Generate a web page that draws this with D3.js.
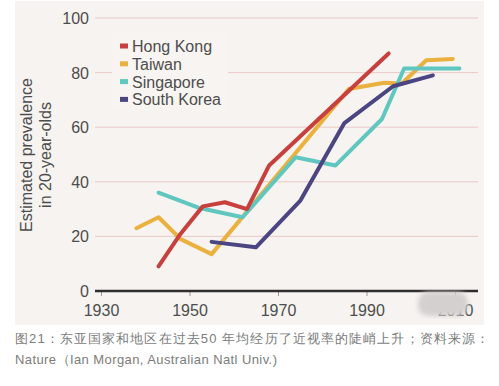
<!DOCTYPE html>
<html>
<head>
<meta charset="utf-8">
<script src="https://d3js.org/d3.v7.min.js"></script>
<style>
body { margin: 0; background: #fff; }
text { font-family: "Liberation Sans", Arial, sans-serif; }
</style>
</head>
<body>
<script>
// chart values
var xTicks = [1930, 1950, 1970, 1990, 2010];
var yTicks = [0, 20, 40, 60, 80, 100];

var seriesNames = ["Hong Kong", "Taiwan", "Singapore", "South Korea"];
var seriesColors = ["#c8403e", "#eab13e", "#5fc7bf", "#4b4682"];

var hkYears = [1943, 1948, 1953, 1958, 1963, 1968, 1995];
var hkVals  = [9, 21, 31, 32.5, 30, 46, 87];

var twYears = [1938, 1943, 1948, 1955, 1986, 1994, 1998, 2003.5, 2009.5];
var twVals  = [23, 27, 19, 13.5, 74, 76.3, 76, 84.5, 85];

var sgYears = [1943, 1952, 1962, 1974, 1983, 1993.5, 1998.5, 2011];
var sgVals  = [36, 30.5, 27, 49, 46, 63, 81.5, 81.5];

var skYears = [1955, 1965, 1975, 1985, 1996, 2005];
var skVals  = [18, 16, 33, 61.5, 75, 79];

var caption1 = "图21：东亚国家和地区在过去50 年均经历了近视率的陡峭上升；资料来源：";
var caption2 = "Nature（Ian Morgan, Australian Natl Univ.)";

var W = 499, H = 386;

var svg = d3.select("body").append("svg")
	.attr("width", W)
	.attr("height", H);

// panel background
svg.append("rect")
	.attr("x", 15).attr("y", 1)
	.attr("width", 469).attr("height", 324)
	.attr("fill", "#f6f3f0");

var x = d3.scaleLinear().domain([1930, 2010]).range([101, 455]);
var y = d3.scaleLinear().domain([0, 100]).range([291, 18]);

// gridlines
svg.append("g").selectAll("line")
	.data(yTicks.filter(function(d) { return d > 0; }))
	.enter().append("line")
	.attr("x1", 95).attr("x2", 478)
	.attr("y1", function(d) { return y(d); })
	.attr("y2", function(d) { return y(d); })
	.attr("stroke", "#ecc8c8")
	.attr("stroke-width", 1);

// y tick labels
svg.append("g").selectAll("text")
	.data(yTicks)
	.enter().append("text")
	.attr("x", 89)
	.attr("y", function(d) { return y(d) + 6; })
	.attr("text-anchor", "end")
	.attr("font-size", 16)
	.attr("fill", "#4d4d4d")
	.text(function(d) { return d; });

// x axis
var xAxis = svg.append("g")
	.attr("transform", "translate(0,291)")
	.call(d3.axisBottom(x).tickValues(xTicks).tickFormat(d3.format("d")).tickSize(5).tickPadding(9));
xAxis.select(".domain").remove();
xAxis.selectAll(".tick line").attr("stroke", "#999");
xAxis.selectAll(".tick text")
	.attr("font-size", 16)
	.attr("font-family", "Liberation Sans, Arial, sans-serif")
	.attr("fill", "#4d4d4d");

svg.append("line")
	.attr("x1", 95).attr("x2", 478)
	.attr("y1", 291).attr("y2", 291)
	.attr("stroke", "#2e2e2e")
	.attr("stroke-width", 2.5);

// axis title
var yTitle = svg.append("text")
	.attr("transform", "translate(32,155) rotate(-90)")
	.attr("text-anchor", "middle")
	.attr("font-size", 16)
	.attr("fill", "#4d4d4d");
yTitle.append("tspan").attr("x", 0).attr("y", 0).text("Estimated prevalence");
yTitle.append("tspan").attr("x", 0).attr("y", 19).text("in 20-year-olds");

// lines
var line = d3.line()
	.x(function(d) { return x(d[0]); })
	.y(function(d) { return y(d[1]); });

var series = [
	d3.zip(twYears, twVals),
	d3.zip(sgYears, sgVals),
	d3.zip(skYears, skVals),
	d3.zip(hkYears, hkVals)
];
var order = [1, 2, 3, 0];

svg.append("g").selectAll("path")
	.data(series)
	.enter().append("path")
	.attr("d", line)
	.attr("fill", "none")
	.attr("stroke", function(d, i) { return seriesColors[order[i]]; })
	.attr("stroke-width", 4)
	.attr("stroke-linejoin", "round")
	.attr("stroke-linecap", "round");

// legend
svg.append("rect")
	.attr("x", 112).attr("y", 32)
	.attr("width", 116).attr("height", 78)
	.attr("fill", "#f7f4f2");

var leg = svg.append("g").selectAll("g")
	.data(seriesNames)
	.enter().append("g")
	.attr("transform", function(d, i) { return "translate(120," + (46 + i * 17.8) + ")"; });
leg.append("rect")
	.attr("x", 0).attr("y", -2.5)
	.attr("width", 8).attr("height", 5)
	.attr("fill", function(d, i) { return seriesColors[i]; });
leg.append("text")
	.attr("x", 12).attr("y", 6)
	.attr("font-size", 16)
	.attr("fill", "#4d4d4d")
	.text(function(d) { return d; });

// smudge over the 2010 label
var defs = svg.append("defs");
defs.append("filter").attr("id", "blur")
	.append("feGaussianBlur").attr("stdDeviation", 2.5);
svg.append("rect")
	.attr("x", 418).attr("y", 292)
	.attr("width", 50).attr("height", 24)
	.attr("rx", 10)
	.attr("fill", "#d3d0cf")
	.attr("filter", "url(#blur)");

// caption
svg.append("text")
	.attr("x", 15).attr("y", 343)
	.attr("font-size", 13)
	.attr("font-family", "Noto Sans CJK SC, sans-serif")
	.attr("fill", "#7c7c7c")
	.attr("textLength", 474)
	.attr("lengthAdjust", "spacing")
	.text(caption1);
svg.append("text")
	.attr("x", 15).attr("y", 364)
	.attr("font-size", 13)
	.attr("font-family", "Noto Sans CJK SC, sans-serif")
	.attr("fill", "#7c7c7c")
	.attr("textLength", 262)
	.attr("lengthAdjust", "spacing")
	.text(caption2);
</script>
</body>
</html>
